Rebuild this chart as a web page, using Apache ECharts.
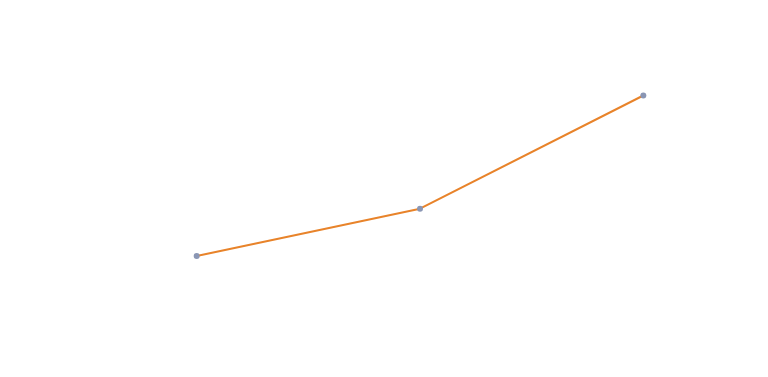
<!DOCTYPE html>
<html>
<head>
<meta charset="utf-8">
<script src="https://cdn.jsdelivr.net/npm/echarts@6/dist/echarts.min.js"></script>
<style>
  html, body { margin: 0; padding: 0; background: #fff; }
  #main { width: 768px; height: 377px; }
</style>
</head>
<body>
<div id="main"></div>
<script>
var categories = ['A', 'B', 'C'];
var values = [30, 44, 77.6];

var chart = echarts.init(document.getElementById('main'));
var option = {
    animation: false,
    grid: {
        left: 85,
        right: 13,
        top: 20,
        bottom: 20
    },
    xAxis: {
        type: 'category',
        data: categories,
        show: false
    },
    yAxis: {
        type: 'value',
        min: 0,
        max: 100,
        show: false
    },
    series: [
        {
            type: 'line',
            data: values,
            symbol: 'circle',
            symbolSize: 6,
            itemStyle: {
                color: '#8a96b4'
            },
            lineStyle: {
                color: '#e8832a',
                width: 2
            }
        }
    ]
};
chart.setOption(option);
</script>
</body>
</html>
